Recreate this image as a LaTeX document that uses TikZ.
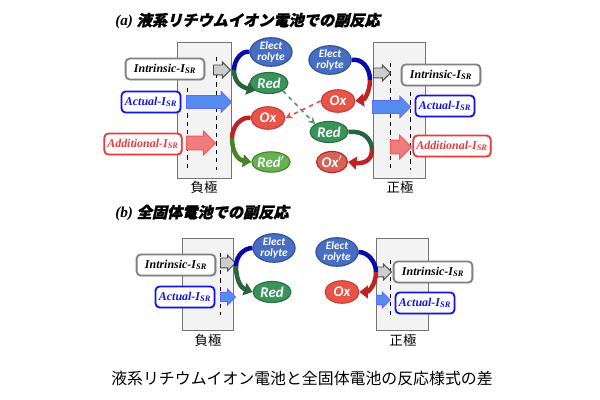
\documentclass[tikz,border=0pt]{standalone}
\usepackage{xcolor}
\usepackage{fontspec}
\usepackage{tikz}
\usetikzlibrary{shapes.geometric,shapes.arrows,arrows.meta,shadows}
\setmainfont{Liberation Serif}
\newfontfamily\jpfont{Noto Sans CJK JP}
\newfontfamily\jptitlefont[FakeSlant=0.22,FakeBold=1.5]{Noto Sans CJK JP}
\newfontfamily\ovalfont{Carlito}

\definecolor{elecfill}{RGB}{72,110,196}
\definecolor{elecline}{RGB}{47,82,143}
\definecolor{redfill}{RGB}{58,148,90}
\definecolor{redline}{RGB}{40,110,65}
\definecolor{oxfill}{RGB}{232,84,72}
\definecolor{oxline}{RGB}{200,60,50}
\definecolor{redpfill}{RGB}{100,178,80}
\definecolor{oxpfill}{RGB}{214,98,88}
\definecolor{arcblue}{RGB}{10,10,170}
\definecolor{arcgreen}{RGB}{40,100,60}
\definecolor{arcred}{RGB}{190,35,35}
\definecolor{arclgreen}{RGB}{70,130,40}
\definecolor{boxgray}{RGB}{128,128,128}
\definecolor{boxblue}{RGB}{20,20,230}
\definecolor{boxred}{RGB}{230,60,60}
\definecolor{arrgray}{RGB}{205,205,205}
\definecolor{arrblue}{RGB}{85,140,240}
\definecolor{arrred}{RGB}{240,125,125}
\definecolor{elecbg}{RGB}{243,243,243}

\begin{document}
\begin{tikzpicture}[
		x=0.025cm, y=-0.025cm,
		electrode/.style={draw=black!55, fill=elecbg, line width=0.6pt},
		sr/.style={rectangle, rounded corners=3pt, draw, fill=white, line width=1.3pt, inner sep=0pt, minimum height=15pt, font=\fontsize{8.5}{10}\selectfont\bfseries\itshape, drop shadow={opacity=0.25, shadow xshift=0.8pt, shadow yshift=-0.8pt}},
		intr/.style={sr, draw=boxgray, text=black, minimum width=56pt},
		actl/.style={sr, draw=boxblue, text=boxblue, minimum width=42pt},
		addl/.style={sr, draw=boxred, text=boxred, minimum width=55pt},
		species/.style={ellipse, draw, line width=0.8pt, inner sep=0pt, text=white, font=\ovalfont\fontsize{10.5}{11}\selectfont\bfseries\itshape},
		elec/.style={species, fill=elecfill, draw=elecline, minimum width=30pt, minimum height=16.5pt, align=center, font=\ovalfont\fontsize{8}{7.5}\selectfont\bfseries\itshape},
		red/.style={species, fill=redfill, draw=redline, minimum width=27pt, minimum height=15pt},
		ox/.style={species, fill=oxfill, draw=oxline, minimum width=24pt, minimum height=16pt},
		redp/.style={species, fill=redpfill, draw=arclgreen, minimum width=27pt, minimum height=14.5pt},
		oxp/.style={species, fill=oxpfill, draw=arcred, minimum width=22pt, minimum height=15pt},
		blk/.style={single arrow, draw, line width=0.7pt, anchor=tail, single arrow head indent=0pt},
		grayblk/.style={blk, fill=arrgray, draw=black!70, inner sep=3.2pt, single arrow head extend=2.1pt},
		blueblk/.style={blk, fill=arrblue, draw=blue!60, inner sep=4.2pt, single arrow head extend=2.9pt},
		redblk/.style={blk, fill=arrred, draw=arrred!70!red, inner sep=4.6pt, single arrow head extend=3.5pt},
		arc/.style={line width=3.2pt},
		tip/.style={-{Triangle[width=9pt,length=6pt]}},
		pole/.style={font=\jpfont\fontsize{9.5}{11}\selectfont},
		title/.style={anchor=west, inner sep=0pt, font=\fontsize{10.8}{12}\selectfont}
	]
		\useasboundingbox (0,0) rectangle (600,400);

		% (a) liquid electrolyte
		\node[title] (titA) at (115,21) {\bfseries\itshape (a) {\jptitlefont 液系リチウムイオン電池での副反応}};

		\draw[electrode] (177,42) rectangle (231,178);
		\draw[electrode] (373,42) rectangle (425,178);
		\node[pole] (negA) at (204,187) {負極};
		\node[pole] (posA) at (400,187) {正極};
		\draw[dashed] (187,88) -- (187,170);
		\draw[dashed] (216,57) -- (216,170);
		\draw[dashed] (390,63) -- (390,170);
		\draw[dashed] (410,92) -- (410,170);

		\node[grayblk, minimum height=12pt] (gA1) at (213,70) {};
		\node[blueblk, minimum height=32pt] (bA1) at (186,102) {};
		\node[redblk, minimum height=20.5pt] (rA1) at (186,143) {};
		\node[grayblk, minimum height=12pt] (gA2) at (373,73) {};
		\node[blueblk, minimum height=27pt] (bA2) at (372,107) {};
		\node[redblk, minimum height=14.2pt] (rA2) at (390,147) {};

		\node[intr] (inA1) at (165,69) {Intrinsic-I\textsubscript{SR}};
		\node[actl] (acA1) at (151,102) {Actual-I\textsubscript{SR}};
		\node[addl] (adA1) at (143,144) {Additional-I\textsubscript{SR}};
		\node[intr] (inA2) at (441,75) {Intrinsic-I\textsubscript{SR}};
		\node[actl] (acA2) at (445,106) {Actual-I\textsubscript{SR}};
		\node[addl] (adA2) at (452,146) {Additional-I\textsubscript{SR}};

		\node[elec] (elA1) at (271,52) {Elect\\rolyte};
		\node[red] (redA1) at (269,83) {Red};
		\node[ox] (oxA1) at (268,118) {Ox};
		\node[redp] (redpA1) at (271,162) {Red$'$};
		\node[elec] (elA2) at (330,60) {Elect\\rolyte};
		\node[ox] (oxA2) at (338,101) {Ox};
		\node[red] (redA2) at (329,132) {Red};
		\node[oxp] (oxpA2) at (332,162) {Ox$'$};

		\coordinate (jA1) at (234,70);
		\coordinate (jA2) at (232,138);
		\coordinate (jA3) at (370,80);
		\coordinate (jA4) at (372,150);
		\draw[arc, arcblue] (elA1.west) .. controls (242,50) and (234,60) .. (jA1);
		\draw[arc, arcgreen, tip] (jA1) .. controls (234,80) and (239,86) .. (redA1.south west);
		\draw[arc, arcred] (oxA1.west) .. controls (242,116) and (232,126) .. (jA2);
		\draw[arc, arclgreen, tip] (jA2) .. controls (232,152) and (238,160) .. (redpA1.west);
		\draw[arc, arcblue] (elA2.east) .. controls (362,58) and (370,68) .. (jA3);
		\draw[arc, arcred, tip] (jA3) .. controls (370,92) and (364,100) .. (oxA2.east);
		\draw[arc, arcgreen] (redA2.east) .. controls (364,130) and (372,140) .. (jA4);
		\draw[arc, arcred, tip] (jA4) .. controls (372,160) and (364,164) .. (oxpA2.east);

		\draw[dashed, line width=1.2pt, draw=redfill!90, -{Stealth[length=5pt,width=5pt]}] (redA1.south east) -- (redA2.north west);
		\draw[dashed, line width=1.2pt, draw=oxfill, -{Stealth[length=5pt,width=5pt]}] (oxA2.west) -- (oxA1.east);

		% (b) all-solid-state
		\node[title] (titB) at (115,213) {\bfseries\itshape (b) {\jptitlefont 全固体電池での副反応}};

		\draw[electrode] (182,238) rectangle (233,330);
		\draw[electrode] (376,238) rectangle (428,330);
		\node[pole] (negB) at (208,340) {負極};
		\node[pole] (posB) at (403,340) {正極};
		\draw[dashed] (220,253) -- (220,315);
		\draw[dashed] (390,260) -- (390,317);

		\node[grayblk, minimum height=9.5pt] (gB1) at (220,263) {};
		\node[blueblk, inner sep=2.9pt, single arrow head extend=2.3pt, minimum height=10.6pt] (bB1) at (220,297) {};
		\node[grayblk, minimum height=10pt] (gB2) at (376,272) {};
		\node[blueblk, inner sep=2.9pt, single arrow head extend=2.3pt, minimum height=9.5pt] (bB2) at (376,300) {};

		\node[intr] (inB1) at (176,265) {Intrinsic-I\textsubscript{SR}};
		\node[actl] (acB1) at (185,297) {Actual-I\textsubscript{SR}};
		\node[intr] (inB2) at (433,272) {Intrinsic-I\textsubscript{SR}};
		\node[actl] (acB2) at (425,303) {Actual-I\textsubscript{SR}};

		\node[elec] (elB1) at (274,248) {Elect\\rolyte};
		\node[red] (redB1) at (272,292) {Red};
		\node[elec] (elB2) at (337,252) {Elect\\rolyte};
		\node[ox] (oxB2) at (342,292) {Ox};

		\coordinate (jB1) at (236,266);
		\coordinate (jB2) at (376,272);
		\draw[arc, arcblue] (elB1.west) .. controls (244,248) and (236,256) .. (jB1);
		\draw[arc, arcgreen, tip] (jB1) .. controls (236,280) and (241,288) .. (redB1.west);
		\draw[arc, arcblue] (elB2.east) .. controls (368,252) and (376,262) .. (jB2);
		\draw[arc, arcred, tip] (jB2) .. controls (376,285) and (368,292) .. (oxB2.east);

		% caption
		\node[font=\jpfont\fontsize{11.3}{13}\selectfont] (cap) at (302,378) {液系リチウムイオン電池と全固体電池の反応様式の差};
	\end{tikzpicture}
\end{document}
